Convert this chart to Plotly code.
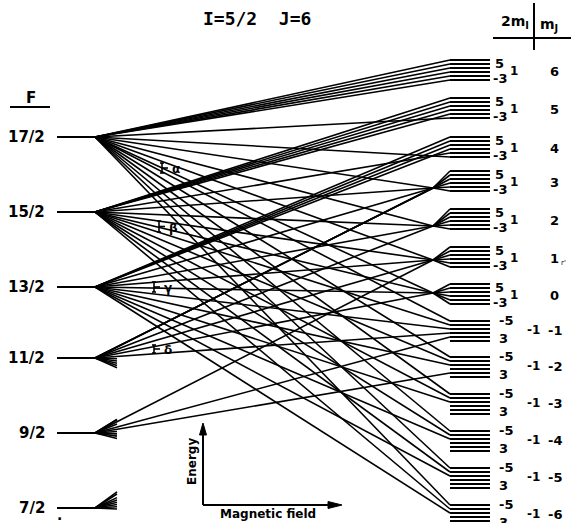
import plotly.graph_objects as go

# ---------------- data ----------------
F_labels = ["17/2", "15/2", "13/2", "11/2", "9/2", "7/2"]
F_twice = [17, 15, 13, 11, 9, 7]
F_energy = [386, 311, 236, 165, 90, 15]          # zero-field level energies (arb.)

mJ_values = [6, 5, 4, 3, 2, 1, 0, -1, -2, -3, -4, -5, -6]
mJ_top_energy = [463, 425, 386, 352, 314, 276, 239, 202, 166, 129, 92, 55, 18]
mI_twice = [5, 3, 1, -1, -3, -5]
sublevel_step = 4
conv_mJ = [3, 2, 1, 0]
conv_energy = [335, 297, 263, 230]
partial_F9_targets = [1, -1, -2]

greek = ["α", "β", "γ", "δ"]

# ---------------- layout constants ----------------
W, H = 571, 523
X_LINE0, X_APEX, X_CONV, X_LEV, X_LEV_END, STUB = 57, 95, 433, 450, 490, 22
FONT = "DejaVu Sans"

top_of = dict(zip(mJ_values, mJ_top_energy))
conv_of = dict(zip(conv_mJ, conv_energy))
F_E = dict(zip(F_twice, F_energy))


def level_energy(mJ, mI2):
    k = (5 - mI2) // 2 if mJ >= 0 else (mI2 + 5) // 2
    return top_of[mJ] - sublevel_step * k


# non-crossing correlation between weak-field (F, mF) and strong-field (mJ, mI)
corr = []
for mF2 in range(-17, 18, 2):
    Fs = [f for f in F_twice if f >= abs(mF2)]
    states = []
    for mJ in mJ_values:
        mI2 = mF2 - 2 * mJ
        if abs(mI2) <= 5:
            states.append((mJ, mI2))
    for f, (mJ, mI2) in zip(Fs, states):
        corr.append((f, mF2, mJ, mI2))

xs, ys = [], []        # correlation lines
lx, ly = [], []        # heavy strokes (levels, frames)


def seg(x0, y0, x1, y1, heavy=False):
    X, Y = (lx, ly) if heavy else (xs, ys)
    X.extend([x0, x1, None])
    Y.extend([y0, y1, None])


# zero-field level stubs
for f in F_twice:
    seg(X_LINE0, F_E[f], X_APEX, F_E[f], heavy=True)

for f, mF2, mJ, mI2 in corr:
    y0 = F_E[f]
    if mJ in conv_of:
        tx, ty = X_CONV, conv_of[mJ]
    else:
        tx, ty = X_LEV, level_energy(mJ, mI2)
    full = False
    if f >= 13:
        full = True
    elif f == 11:
        full = ty > y0
    elif f == 9:
        full = mJ in partial_F9_targets
    if full:
        seg(X_APEX, y0, tx, ty)
    else:
        slope = (ty - y0) / (tx - X_APEX)
        seg(X_APEX, y0, X_APEX + STUB, y0 + STUB * slope)

# fan out of converging groups
for mJ in conv_mJ:
    for mI2 in mI_twice:
        seg(X_CONV, conv_of[mJ], X_LEV, level_energy(mJ, mI2))

# strong-field sublevels
for mJ in mJ_values:
    for mI2 in mI_twice:
        e = level_energy(mJ, mI2)
        seg(X_LEV, e, X_LEV_END, e, heavy=True)

# greek markers
greek_pos = [(162, 360, 350), (159, 302, 291), (154, 241, 231), (154, 178, 170)]
for (gx, ya, yb) in greek_pos:
    seg(gx, ya, gx, yb)
    seg(gx - 2, ya, gx + 2, ya)
    seg(gx - 2, yb, gx + 2, yb)
    seg(gx, (ya + yb) / 2, gx + 6, (ya + yb) / 2)

# energy / field frame
seg(203, 18, 203, 92, heavy=True)
seg(203, 18, 332, 18, heavy=True)
# header cross
seg(534, 520, 534, 473, heavy=True)
seg(493, 485, 571, 485, heavy=True)
# F underline
seg(10, 416, 50, 416, heavy=True)

fig = go.Figure()
fig.add_trace(go.Scatter(x=xs, y=ys, mode="lines",
                         line=dict(color="black", width=1.6),
                         hoverinfo="skip"))
fig.add_trace(go.Scatter(x=lx, y=ly, mode="lines",
                         line=dict(color="black", width=2.0),
                         hoverinfo="skip"))
# arrow heads of the energy / field frame
fig.add_trace(go.Scatter(x=[199.5, 203, 206.5, 199.5], y=[88, 100, 88, 88],
                         mode="lines", fill="toself", fillcolor="black",
                         line=dict(color="black", width=1), hoverinfo="skip"))
fig.add_trace(go.Scatter(x=[328, 342, 328, 328], y=[21.5, 18, 14.5, 21.5],
                         mode="lines", fill="toself", fillcolor="black",
                         line=dict(color="black", width=1), hoverinfo="skip"))

ann = []


def txt(x, y, s, size=14, xanchor="center", yanchor="middle", angle=0,
        family=FONT):
    ann.append(dict(x=x, y=y, text=s, showarrow=False, xanchor=xanchor,
                    yanchor=yanchor, textangle=angle,
                    font=dict(family=family, size=size, color="black")))


for lab, f in zip(F_labels, F_twice):
    txt(47, F_E[f], "<b>" + lab + "</b>", size=15, xanchor="right")
txt(59, 8, "<b>.</b>", size=14)
txt(31, 425, "<b>F</b>", size=15)

txt(257, 505, "<b>I=5/2  J=6</b>", size=18, family="DejaVu Sans Mono")
txt(227, 518, "<b>a.</b>", size=16, yanchor="bottom")

for (gx, ya, yb), g in zip(greek_pos, greek):
    txt(gx + 14, (ya + yb) / 2 - 1, "<b>" + g + "</b>", size=12)

txt(515, 501, "<b>2m<sub>I</sub></b>", size=14)
txt(549, 498, "<b>m<sub>J</sub></b>", size=14)

for mJ in mJ_values:
    t = top_of[mJ]
    if mJ >= 0:
        txt(499, t - 3, "<b>5</b>", size=13)
        txt(500, t - 18, "<b>-3</b>", size=13)
        txt(514, t - 11, "<b>1</b>", size=12)
        txt(554, t - 11, "<b>%d</b>" % mJ, size=13)
    else:
        txt(506, t + 1, "<b>-5</b>", size=13)
        txt(503, t - 17, "<b>3</b>", size=13)
        txt(533, t - 9, "<b>-1</b>", size=12)
        txt(555, t - 9, "<b>%d</b>" % mJ, size=13)
txt(563, top_of[1] - 16, "r'", size=7)

txt(192, 61, "<b>Energy</b>", size=12, angle=-90)
txt(268, 9, "<b>Magnetic field</b>", size=12)

fig.update_layout(
    width=W, height=H, margin=dict(l=0, r=0, t=0, b=0),
    paper_bgcolor="white", plot_bgcolor="white", showlegend=False,
    xaxis=dict(range=[0, W], visible=False, fixedrange=True),
    yaxis=dict(range=[0, H], visible=False, fixedrange=True),
    annotations=ann,
)
fig.write_html("out.html")
